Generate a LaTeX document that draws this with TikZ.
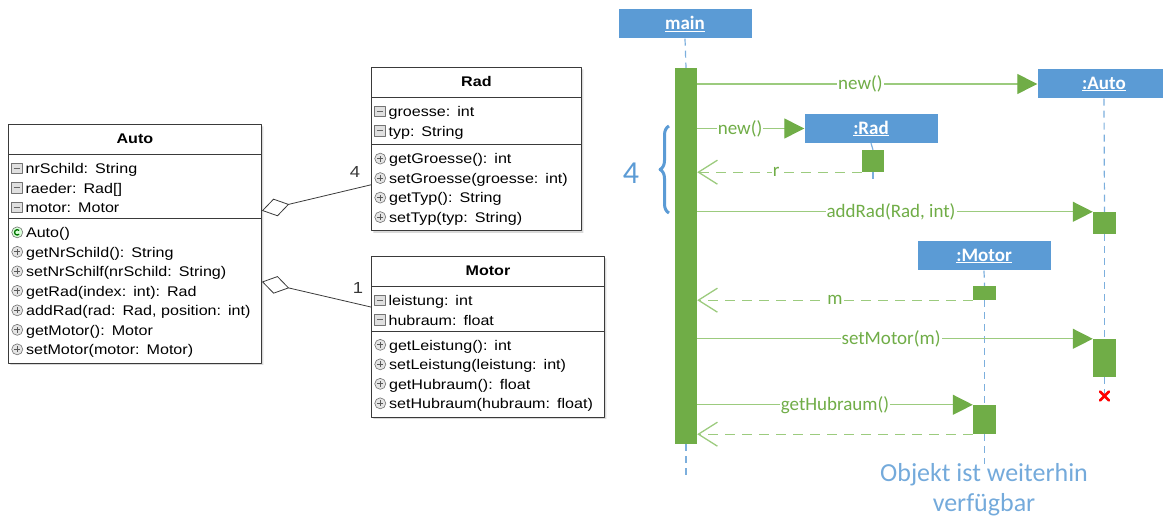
\documentclass[tikz,border=0pt]{standalone}
\usepackage{fontspec}
\setmainfont{Liberation Sans}
\newfontfamily\umlfont[FakeStretch=1.15]{Liberation Sans}
\newfontfamily\seqfont{Carlito}
\usepackage{tikz}
\usetikzlibrary{arrows.meta,positioning,shapes.multipart,shadows}
\usetikzlibrary{decorations.pathreplacing}

\definecolor{seqblue}{HTML}{5B9BD5}
\definecolor{seqgreen}{HTML}{70AD47}
\definecolor{seqline}{HTML}{9CCB7E}
\definecolor{umltext}{HTML}{383838}
\definecolor{umlborder}{HTML}{3A3A3A}

\tikzset{umlclass/.style={draw=umlborder, line width=0.9pt, fill=white, rectangle split, rectangle split parts=3, text width=#1, inner xsep=3pt, inner ysep=5pt, anchor=north west, font=\umlfont\fontsize{14}{19.5}\selectfont, text=umltext, drop shadow={shadow xshift=2pt, shadow yshift=-2pt, opacity=0.3}}}
\tikzset{aggr/.style={draw=umlborder, line width=0.8pt, {Diamond[open,length=28pt,width=18pt]}-}}
\tikzset{mult/.style={font=\umlfont\fontsize{16}{16}\selectfont, text=umltext}}
\tikzset{head/.style={fill=seqblue, minimum width=133pt, minimum height=29pt, inner sep=0pt, text=white, font=\seqfont\bfseries\fontsize{19}{19}\selectfont}}
\tikzset{act/.style={fill=seqgreen, minimum width=22pt, inner sep=0pt}}
\tikzset{lifeline/.style={draw=seqblue!80, line width=1.2pt, dash pattern=on 7pt off 5pt}}
\tikzset{call/.style={draw=seqline, line width=1.3pt, -{Triangle[length=20pt,width=20pt,color=seqgreen]}}}
\tikzset{reply/.style={draw=seqline, line width=1.3pt, dash pattern=on 10pt off 7pt, -{Straight Barb[length=19pt,width=24pt,line width=1.3pt]}}}
\tikzset{msglabel/.style={font=\seqfont\fontsize{19}{19}\selectfont, text=seqgreen, fill=white, inner sep=1pt}}

% small icons for the member lists
\newcommand\fieldicon{\tikz[baseline=-0.5pt,x=1pt,y=1pt]{\draw[draw=black!55,fill=black!12,line width=0.6pt] (0,0) rectangle (10.5,10.5); \draw[black!60,line width=0.8pt] (2,5.25) -- (8.5,5.25);}\hspace{3pt}}
\newcommand\methodicon{\tikz[baseline=-0.5pt,x=1pt,y=1pt]{\draw[draw=black!55,fill=black!10,line width=0.6pt] (5.5,4.8) circle (5.5); \draw[black!65,line width=0.8pt] (2.6,4.8) -- (8.4,4.8) (5.5,1.9) -- (5.5,7.7);}\hspace{3pt}}
\newcommand\ctoricon{\tikz[baseline=-0.5pt,x=1pt,y=1pt]{\draw[draw=black!55,fill=green!15,line width=0.6pt] (5.5,4.8) circle (5.5); \draw[green!45!black,line width=1.3pt] (7.4,6.7) arc (45:315:2.7);}\hspace{3pt}}

\begin{document}
\begin{tikzpicture}[x=1pt, y=-1pt, line join=round]
  \useasboundingbox (0,0) rectangle (1163,521);

  % class diagram
  \node[umlclass=247pt] (auto) at (8,124) {{\centering\strut\bfseries\color{black}Auto\par}
    \nodepart{two}\raggedright\strut
    \fieldicon nrSchild: String\\
    \fieldicon raeder: Rad[]\\
    \fieldicon motor: Motor
    \nodepart{three}\raggedright\strut
    \ctoricon Auto()\\
    \methodicon getNrSchild(): String\\
    \methodicon setNrSchilf(nrSchild: String)\\
    \methodicon getRad(index: int): Rad\\
    \methodicon addRad(rad: Rad, position: int)\\
    \methodicon getMotor(): Motor\\
    \methodicon setMotor(motor: Motor)};
  \node[umlclass=204pt] (rad) at (371,67) {{\centering\strut\bfseries\color{black}Rad\par}
    \nodepart{two}\raggedright\strut
    \fieldicon groesse: int\\
    \fieldicon typ: String
    \nodepart{three}\raggedright\strut
    \methodicon getGroesse(): int\\
    \methodicon setGroesse(groesse: int)\\
    \methodicon getTyp(): String\\
    \methodicon setTyp(typ: String)};
  \node[umlclass=227pt] (motor) at (371,256) {{\centering\strut\bfseries\color{black}Motor\par}
    \nodepart{two}\raggedright\strut
    \fieldicon leistung: int\\
    \fieldicon hubraum: float
    \nodepart{three}\raggedright\strut
    \methodicon getLeistung(): int\\
    \methodicon setLeistung(leistung: int)\\
    \methodicon getHubraum(): float\\
    \methodicon setHubraum(hubraum: float)};
  \draw[aggr] ([yshift=33pt]auto.east) -- ([yshift=-40pt]rad.two split west);
  \draw[aggr] ([yshift=-38pt]auto.east) -- ([yshift=24pt]motor.two split west);
  \node[mult] (multRad) at (355,172) {4};
  \node[mult] (multMotor) at (358,288) {1};

  % sequence diagram: heads and activations
  \node[head] (mainhead) at (685,24) {\underline{main}};
  \node[head] (autohead) at (1104,84) {\underline{:Auto}};
  \node[head] (radhead) at (871,128.5) {\underline{:Rad}};
  \node[head] (motorhead) at (984,256) {\underline{:Motor}};
  \node[act, minimum height=376pt] (mainbar) at (686,256) {};
  \node[act, minimum height=22pt] (radact) at (873,161) {};
  \node[act, minimum height=22pt, minimum width=23pt] (autoact1) at (1104.5,223) {};
  \node[act, minimum height=38pt, minimum width=23pt] (autoact2) at (1104.5,358) {};
  \node[act, minimum height=14pt, minimum width=23pt] (motoract1) at (984.5,293) {};
  \node[act, minimum height=29pt, minimum width=23pt] (motoract2) at (984.5,419.5) {};
  \coordinate (mainend) at (686,476);
  \coordinate (radend) at (873,184);
  \coordinate (motorend) at (984.5,464);
  \node[inner sep=0pt] (autoend) at (1104.5,396) {};

  % lifelines
  \draw[lifeline] (mainhead.south) -- (mainbar.north);
  \draw[lifeline] (mainbar.south) -- (mainend);
  \draw[lifeline] (radhead.south) -- (radact.north);
  \draw[lifeline] (radact.south) -- (radend);
  \draw[lifeline] (autohead.south) -- (autoact1.north);
  \draw[lifeline] (autoact1.south) -- (autoact2.north);
  \draw[lifeline] (autoact2.south) -- (autoend);
  \draw[lifeline] (motorhead.south) -- (motoract1.north);
  \draw[lifeline] (motoract1.south) -- (motoract2.north);
  \draw[lifeline] (motoract2.south) -- (motorend);
  \draw[red, line width=2.6pt, line cap=round] ([shift={(-4.5,-4.5)}]autoend.center) -- ([shift={(4.5,4.5)}]autoend.center)
    ([shift={(-4.5,4.5)}]autoend.center) -- ([shift={(4.5,-4.5)}]autoend.center);

  % messages
  \draw[call] (mainbar.east |- autohead) -- node[msglabel, pos=0.48] {new()} (autohead.west);
  \draw[call] (mainbar.east |- radhead) -- node[msglabel, pos=0.4] {new()} (radhead.west);
  \draw[reply] (radact.south west) -- node[msglabel, pos=0.52] {r} (mainbar.east |- radact.south);
  \draw[call] (mainbar.east |- autoact1.north) -- node[msglabel, pos=0.49] {addRad(Rad, int)} (autoact1.north west);
  \draw[reply] (motoract1.south west) -- node[msglabel, pos=0.5] {m} (mainbar.east |- motoract1.south);
  \draw[call] (mainbar.east |- autoact2.north) -- node[msglabel, pos=0.49] {setMotor(m)} (autoact2.north west);
  \draw[call] (mainbar.east |- motoract2.north) -- node[msglabel, pos=0.5] {getHubraum()} (motoract2.north west);
  \draw[reply] (motoract2.south west) -- (mainbar.east |- motoract2.south);

  % loop brace and note
  \draw[seqblue, line width=3pt, decorate, decoration={brace, amplitude=9pt}] (669,213) -- (669,126);
  \node[font=\seqfont\fontsize{32}{32}\selectfont, text=seqblue] (loopcount) at (631,173) {4};
  \node[font=\seqfont\fontsize{26}{30}\selectfont, text=seqblue!85, align=center] (motornote) at (984,490) {Objekt ist weiterhin\\verfügbar};
\end{tikzpicture}
\end{document}
